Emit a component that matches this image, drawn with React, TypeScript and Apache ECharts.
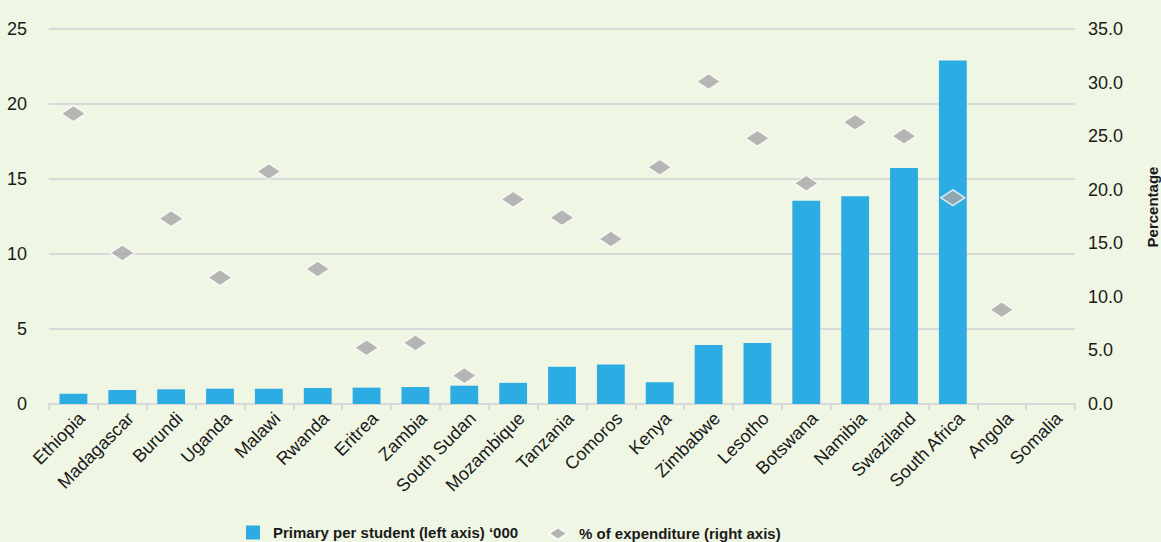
import React, { useEffect, useRef } from "react";
import * as echarts from "echarts";

const countries = [
  "Ethiopia", "Madagascar", "Burundi", "Uganda", "Malawi", "Rwanda", "Eritrea",
  "Zambia", "South Sudan", "Mozambique", "Tanzania", "Comoros", "Kenya",
  "Zimbabwe", "Lesotho", "Botswana", "Namibia", "Swaziland", "South Africa",
  "Angola", "Somalia",
];

const perStudent: (number | null)[] = [
  0.69, 0.93, 0.98, 1.02, 1.02, 1.07, 1.09, 1.13, 1.22, 1.41, 2.49, 2.64, 1.45,
  3.93, 4.07, 13.55, 13.85, 15.73, 22.9, null, null,
];

const pctExpenditure: (number | null)[] = [
  27.1, 14.1, 17.3, 11.8, 21.7, 12.6, 5.25, 5.7, 2.65, 19.1, 17.4, 15.4, 22.1,
  30.1, 24.8, 20.6, 26.3, 25.0, 19.25, 8.8, null,
];

const leftTicks = { min: 0, max: 25, interval: 5 };
const rightTicks = { min: 0, max: 35, interval: 5 };

const BAR_NAME = "Primary per student (left axis) \u2018000";
const PCT_NAME = "% of expenditure (right axis)";
const RIGHT_AXIS_TITLE = "Percentage";
const FONT = 'Arial, "Liberation Sans", Helvetica, sans-serif';

export default function App() {
  const ref = useRef<HTMLDivElement>(null);
  useEffect(() => {
    document.body.style.margin = "0";
    document.body.style.overflow = "hidden";
    document.documentElement.style.overflow = "hidden";
    const chart = echarts.init(ref.current!, null, { renderer: "svg", width: 1161, height: 542 });
    chart.setOption({
      animation: false,
      backgroundColor: "#eff6e4",
      textStyle: { fontFamily: FONT },
      grid: { left: 49, right: 86, top: 29, bottom: 138, containLabel: false, outerBoundsMode: "none" },
      legend: [
        {
          data: [{ name: BAR_NAME, icon: "rect" }],
          left: 241,
          top: 520,
          itemWidth: 14,
          itemHeight: 14,
          textStyle: { fontSize: 15, fontWeight: "bold", color: "#1a1a1a", fontFamily: FONT, padding: [0, 0, 0, 8] },
        },
        {
          data: [{ name: PCT_NAME, icon: "diamond" }],
          left: 543,
          top: 521,
          itemWidth: 18,
          itemHeight: 12,
          textStyle: { fontSize: 15, fontWeight: "bold", color: "#1a1a1a", fontFamily: FONT, padding: [0, 0, 0, 7] },
        },
      ],
      graphic: [
        {
          type: "text",
          x: 1152,
          y: 207,
          rotation: Math.PI / 2,
          style: {
            text: RIGHT_AXIS_TITLE,
            fontSize: 15,
            fontWeight: "bold",
            fill: "#1a1a1a",
            fontFamily: FONT,
            align: "center",
            verticalAlign: "middle",
          },
        },
      ],
      xAxis: {
        type: "category",
        data: countries,
        boundaryGap: true,
        axisLine: { lineStyle: { color: "#d9d9d9", width: 2 } },
        axisTick: { show: true, length: 6, lineStyle: { color: "#d9d9d9", width: 2 } },
        axisLabel: {
          rotate: 45,
          fontSize: 18,
          color: "#1a1a1a",
          margin: 3,
          interval: 0,
          fontFamily: FONT,
          align: "right",
          verticalAlign: "top",
          padding: [3, 0, 0, 0],
        },
      },
      yAxis: [
        {
          type: "value",
          ...leftTicks,
          position: "left",
          axisLine: { show: false },
          axisTick: { show: false },
          splitLine: { lineStyle: { color: "#d9d9d9", width: 2 } },
          axisLabel: { fontSize: 18, color: "#1a1a1a", margin: 22, fontFamily: FONT },
        },
        {
          type: "value",
          ...rightTicks,
          position: "right",
          axisLine: { show: false },
          axisTick: { show: false },
          splitLine: { show: false },
          axisLabel: {
            fontSize: 18,
            color: "#1a1a1a",
            margin: 13,
            fontFamily: FONT,
            formatter: (v: number) => v.toFixed(1),
          },
        },
      ],
      series: [
        {
          name: BAR_NAME,
          type: "bar",
          yAxisIndex: 0,
          data: perStudent,
          barWidth: "57%",
          itemStyle: { color: "#2dace3" },
        },
        {
          name: PCT_NAME,
          type: "scatter",
          yAxisIndex: 1,
          data: pctExpenditure,
          symbol: "diamond",
          symbolSize: [24, 16],
          itemStyle: { color: "#a6a6a6", borderColor: "#ffffff", borderWidth: 1.5 },
          z: 5,
        },
      ],
    });
    return () => chart.dispose();
  }, []);
  return <div ref={ref} style={{ position: "absolute", left: 0, top: 0, width: 1161, height: 542 }} />;
}
